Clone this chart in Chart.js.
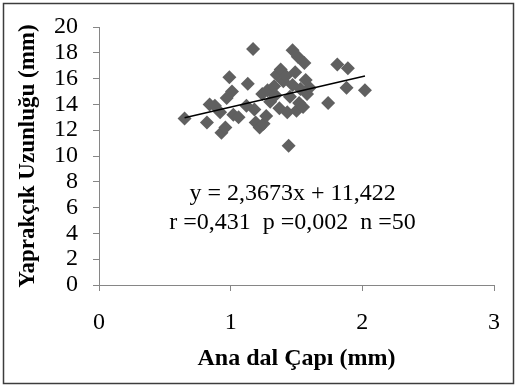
<!DOCTYPE html>
<html>
<head>
<meta charset="utf-8">
<script src="https://cdn.jsdelivr.net/npm/chart.js@4/dist/chart.umd.min.js"></script>
<style>
  body { margin: 0; background: #fff; }
</style>
</head>
<body>
<canvas id="mycanvas" width="517" height="386"></canvas>
<script>
// Ana dal çapı (mm) vs Yaprakçık uzunluğu (mm), n = 50
var dalCapi = [0.65, 0.82, 0.84, 0.92, 0.93, 0.96, 0.97, 0.99, 1.01, 1.02,
               1.06, 1.13, 1.17, 1.18, 1.19, 1.22, 1.25, 1.24, 1.28, 1.30,
               1.33, 1.35, 1.37, 1.38, 1.40, 1.42, 1.44, 1.45, 1.47, 1.47,
               1.49, 1.50, 1.51, 1.52, 1.53, 1.55, 1.56, 1.57, 1.58, 1.60,
               1.43, 1.74, 1.81, 1.89, 1.88, 2.02, 1.34, 1.27, 1.12, 0.88];
var yaprakcik = [12.9, 12.6, 14.0, 13.4, 11.8, 12.2, 14.5, 16.1, 15.0, 13.2,
                 13.0, 15.6, 18.3, 13.6, 12.6, 12.2, 12.5, 14.8, 15.1, 14.2,
                 15.4, 16.3, 13.7, 16.7, 15.8, 16.2, 10.8, 14.6, 18.2, 15.5,
                 16.5, 13.5, 17.7, 14.1, 15.2, 13.8, 17.2, 15.9, 14.8, 15.3,
                 13.4, 14.1, 17.1, 16.8, 15.3, 15.1, 14.7, 13.1, 13.9, 13.9];

// trend line from the equation shown on the chart
var egim = 2.3673;
var sabit = 11.422;
var trendX = [0.65, 2.02];

var xTicks = [0, 1, 2, 3];
var yTicks = [0, 2, 4, 6, 8, 10, 12, 14, 16, 18, 20];

var denklem = 'y = 2,3673x + 11,422';
var istatistik = 'r =0,431  p =0,002  n =50';

var points = [];
for (var i in dalCapi) {
  points.push({ x: dalCapi[i], y: yaprakcik[i] });
}
var trend = [];
for (var j in trendX) {
  trend.push({ x: trendX[j], y: egim * trendX[j] + sabit });
}

var serif = "'Liberation Serif', 'Times New Roman', serif";
var axisGray = '#868686';

var frame = {
  id: 'frame',
  afterDraw: function(chart) {
    var c = chart.ctx;
    c.save();
    c.strokeStyle = '#3c3c3c';
    c.lineWidth = 1.5;
    c.strokeRect(3.5, 3.5, 510, 380);
    // equation text
    var xs = chart.scales.x, ys = chart.scales.y;
    c.fillStyle = '#000';
    c.font = '24px ' + serif;
    c.textAlign = 'center';
    c.textBaseline = 'middle';
    c.fillText(denklem, xs.getPixelForValue(1.47), ys.getPixelForValue(7.05));
    c.fillText(istatistik, xs.getPixelForValue(1.47), ys.getPixelForValue(4.85));
    c.restore();
  }
};

var ctx = document.getElementById('mycanvas');
var chart = new Chart(ctx, {
  type: 'scatter',
  data: {
    datasets: [
      {
        label: 'Yaprakçık',
        data: points,
        pointStyle: 'rectRot',
        pointRadius: 7,
        pointHoverRadius: 7,
        backgroundColor: '#606060',
        borderColor: '#606060',
        borderWidth: 0,
        order: 2
      },
      {
        label: 'Doğrusal',
        type: 'line',
        data: trend,
        borderColor: '#000',
        borderWidth: 1.5,
        pointRadius: 0,
        fill: false,
        order: 1
      }
    ]
  },
  options: {
    responsive: false,
    animation: false,
    devicePixelRatio: 1,
    layout: { padding: { left: 0, top: 25, right: 23, bottom: 0 } },
    plugins: {
      legend: { display: false },
      tooltip: { enabled: false }
    },
    scales: {
      x: {
        type: 'linear',
        min: 0,
        max: 3,
        afterBuildTicks: function(s) { s.ticks = xTicks.map(function(v) { return { value: v }; }); },
        afterFit: function(s) { s.height = 101; },
        grid: { display: true, drawOnChartArea: false, drawTicks: true, tickLength: 6, color: axisGray },
        border: { display: true, color: axisGray, width: 1 },
        ticks: { color: '#000', padding: 17, autoSkip: false, font: { family: serif, size: 24 } },
        title: {
          display: true,
          text: 'Ana dal Çapı (mm)',
          color: '#000',
          font: { family: serif, size: 24, weight: 'bold' },
          padding: { top: 0, bottom: 13 }
        }
      },
      y: {
        type: 'linear',
        min: 0,
        max: 20,
        afterBuildTicks: function(s) { s.ticks = yTicks.map(function(v) { return { value: v }; }); },
        afterFit: function(s) { s.width = 99; },
        grid: { display: true, drawOnChartArea: false, drawTicks: true, tickLength: 6, color: axisGray },
        border: { display: true, color: axisGray, width: 1 },
        ticks: { color: '#000', padding: 15, autoSkip: false, font: { family: serif, size: 24, lineHeight: 1 } },
        title: {
          display: true,
          text: 'Yaprakçık Uzunluğu (mm)',
          color: '#000',
          font: { family: serif, size: 23, weight: 'bold' },
          padding: { top: 14, bottom: 0 }
        }
      }
    }
  },
  plugins: [frame]
});
</script>
</body>
</html>
